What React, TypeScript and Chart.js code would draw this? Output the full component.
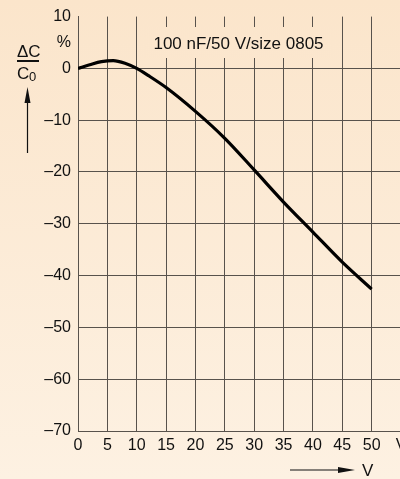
import React, { useEffect, useRef } from "react";
import { Chart, registerables } from "chart.js";

Chart.register(...registerables);

const voltage: number[] = [0, 2, 4, 6, 8, 10, 12, 15, 20, 25, 30, 35, 40, 45, 50];
const deltaC: number[] = [0, 0.7, 1.3, 1.5, 1.0, 0, -1.4, -3.7, -8.3, -13.5, -19.6, -25.8, -31.6, -37.4, -42.6];
const xTickLabels: string[] = ["0", "5", "10", "15", "20", "25", "30", "35", "40", "45", "50", "V"];
const yTickLabels: string[] = ["–70", "–60", "–50", "–40", "–30", "–20", "–10", "0", "%", "10"];
const titleText = "100 nF/50 V/size 0805";

const FONT = "'Liberation Sans', Arial, Helvetica, sans-serif";
const GRID = "#58524c";
const BG = "linear-gradient(to bottom, rgb(251,229,203) 0%, rgb(253,241,226) 100%)";

export default function App() {
  const canvasRef = useRef<HTMLCanvasElement | null>(null);

  useEffect(() => {
    const canvas = canvasRef.current;
    if (!canvas) return;
    const data = voltage.map((v, i) => ({ x: v, y: deltaC[i] }));
    const chart = new Chart(canvas, {
      type: "line",
      data: {
        datasets: [
          {
            data,
            borderColor: "#000",
            borderWidth: 3.2,
            pointRadius: 0,
            tension: 0.4,
            cubicInterpolationMode: "monotone",
            fill: false,
          },
        ],
      },
      options: {
        animation: false,
        responsive: false,
        devicePixelRatio: 1,
        layout: { padding: { left: 0, top: 16, right: 39, bottom: 0 } },
        plugins: { legend: { display: false }, tooltip: { enabled: false }, title: { display: false } },
        scales: {
          x: {
            type: "linear",
            min: 0,
            max: 55,
            afterFit: (s: any) => {
              s.height = 48;
            },
            border: { display: true, color: GRID, width: 1 },
            grid: { color: GRID, lineWidth: 1, drawTicks: false },
            ticks: {
              stepSize: 5,
              padding: 5,
              color: "#111",
              font: { family: FONT, size: 16 },
              maxRotation: 0,
              autoSkip: false,
              callback: (v: any) => {
                const i = Math.round(Number(v) / 5);
                return xTickLabels[i] ?? "";
              },
            },
          },
          y: {
            type: "linear",
            min: -70,
            max: 10,
            afterFit: (s: any) => {
              s.width = 78;
            },
            border: { display: true, color: GRID, width: 1 },
            grid: {
              drawTicks: false,
              lineWidth: 1,
              color: (ctx: any) => {
                const v = ctx.tick ? ctx.tick.value : 0;
                if (v === 10) return "rgba(0,0,0,0)";
                return Math.abs(v % 10) === 0 ? GRID : "rgba(0,0,0,0)";
              },
            },
            ticks: {
              stepSize: 5,
              padding: 7,
              color: "#111",
              font: { family: FONT, size: 16 },
              autoSkip: false,
              callback: (v: any) => {
                const n = Number(v);
                if (n === 5) return yTickLabels[8];
                if (n % 10 !== 0) return "";
                const i = Math.round((n + 70) / 10);
                const idx = i >= 8 ? i + 1 : i;
                return yTickLabels[idx] ?? "";
              },
            },
          },
        },
      },
    });
    return () => chart.destroy();
  }, []);

  const txt: React.CSSProperties = {
    position: "absolute",
    fontFamily: FONT,
    color: "#111",
    whiteSpace: "nowrap",
  };

  return (
    <div
      style={{
        position: "fixed",
        left: 0,
        top: 0,
        width: 400,
        height: 479,
        overflow: "hidden",
        background: BG,
      }}
    >
      <canvas
        ref={canvasRef}
        width={440}
        height={479}
        style={{ position: "absolute", left: 0, top: 0, width: 440, height: 479, display: "block" }}
      />
      <div
        style={{
          position: "absolute",
          left: 145,
          top: 27,
          width: 187,
          height: 31,
          background: BG,
          backgroundSize: "400px 479px",
          backgroundPosition: "-145px -27px",
        }}
      />
      <div style={{ ...txt, left: 145, top: 35, width: 187, textAlign: "center", fontSize: 17, lineHeight: "17px" }}>
        {titleText}
      </div>
      <div style={{ ...txt, left: 17, top: 43, fontSize: 17, lineHeight: "17px" }}>ΔC</div>
      <div style={{ position: "absolute", left: 17, top: 60, width: 22, height: 1.5, background: "#111" }} />
      <div style={{ ...txt, left: 17, top: 65, fontSize: 17, lineHeight: "17px" }}>C</div>
      <div style={{ ...txt, left: 29, top: 70, fontSize: 13, lineHeight: "13px" }}>0</div>
      <div style={{ ...txt, left: 362, top: 462, fontSize: 17, lineHeight: "17px" }}>V</div>
      <svg
        width={400}
        height={479}
        style={{ position: "absolute", left: 0, top: 0, pointerEvents: "none" }}
      >
        <line x1={27.5} y1={153} x2={27.5} y2={100} stroke="#111" strokeWidth={1.2} />
        <polygon points="27.5,87 24.5,103 30.5,103" fill="#111" />
        <line x1={290} y1={470} x2={342} y2={470} stroke="#111" strokeWidth={1.2} />
        <polygon points="355,470 338,467 338,473" fill="#111" />
      </svg>
    </div>
  );
}
